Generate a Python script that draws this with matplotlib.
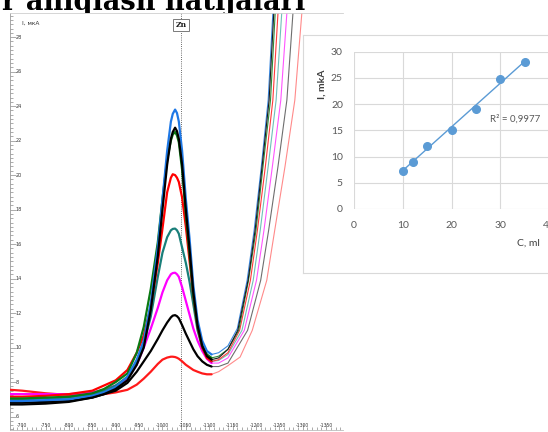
import numpy as np
import matplotlib
matplotlib.use("Agg")
import matplotlib.pyplot as plt
from matplotlib.ticker import MultipleLocator
from matplotlib.transforms import blended_transform_factory

# ---------------------------------------------------------------- data
# Potential grid (mV) for the peak region of every voltammogram
POT = [-675, -700, -750, -800, -850, -875, -900, -925, -945, -960, -975, -990,
       -1000, -1010, -1018, -1022, -1027, -1031, -1035, -1042, -1050, -1058,
       -1066, -1075, -1085, -1095, -1105, -1120, -1140]

# Current (uA) of each scan on the POT grid
cur_blue = [6.9, 6.9, 6.95, 7.0, 7.2, 7.4, 7.7, 8.3, 9.3, 10.4, 12.6, 15.8,
            18.6, 21.4, 23.1, 23.55, 23.8, 23.6, 23.1, 21.4, 18.6, 16.3,
            13.6, 11.6, 10.4, 9.8, 9.6, 9.7, 10.1]
cur_black = [6.7, 6.7, 6.75, 6.85, 7.1, 7.3, 7.6, 8.1, 9.0, 10.0, 12.2, 15.3,
             18.0, 20.6, 22.1, 22.5, 22.75, 22.55, 22.1, 20.6, 18.0, 15.7,
             13.2, 11.3, 10.1, 9.5, 9.3, 9.4, 9.9]
cur_green = [7.05, 7.05, 7.1, 7.15, 7.35, 7.6, 8.0, 8.5, 9.7, 11.2, 13.4, 16.1,
             18.6, 20.9, 22.0, 22.35, 22.5, 22.3, 21.9, 20.3, 17.7, 15.4,
             13.0, 11.2, 10.1, 9.6, 9.4, 9.5, 9.9]
cur_red = [7.15, 7.15, 7.2, 7.3, 7.5, 7.8, 8.1, 8.7, 9.7, 10.7, 12.4, 14.9,
           16.9, 19.0, 19.85, 20.05, 20.0, 19.85, 19.6, 18.7, 17.0, 15.0,
           13.0, 11.2, 10.0, 9.4, 9.2, 9.3, 9.7]
cur_teal = [7.0, 7.0, 7.05, 7.1, 7.3, 7.5, 7.8, 8.3, 9.2, 10.2, 11.8, 14.1,
            15.5, 16.4, 16.8, 16.88, 16.9, 16.8, 16.6, 15.8, 14.9, 13.8,
            12.5, 11.0, 10.0, 9.5, 9.2, 9.25, 9.6]
cur_magenta = [7.3, 7.3, 7.3, 7.3, 7.4, 7.55, 7.8, 8.2, 9.0, 10.0, 11.1, 12.3,
               13.2, 13.9, 14.25, 14.32, 14.34, 14.25, 14.1, 13.5, 12.7, 11.9,
               11.1, 10.4, 9.8, 9.35, 9.1, 9.1, 9.4]
cur_black2 = [6.8, 6.8, 6.85, 6.9, 7.1, 7.3, 7.5, 7.95, 8.6, 9.2, 9.8, 10.5,
              11.0, 11.45, 11.75, 11.85, 11.88, 11.82, 11.7, 11.3, 10.8, 10.35,
              9.9, 9.5, 9.2, 9.0, 8.9, 8.9, 9.1]
cur_red2 = [7.55, 7.5, 7.35, 7.25, 7.25, 7.3, 7.4, 7.55, 7.85, 8.2, 8.6, 9.05,
            9.3, 9.42, 9.47, 9.47, 9.45, 9.41, 9.35, 9.2, 9.0, 8.85,
            8.7, 8.6, 8.5, 8.45, 8.45, 8.6, 8.95]

# Background discharge branch (potential, current) of each scan
rise_pot_blue = [-1160, -1181, -1196, -1211, -1226, -1236, -1246]
rise_cur_blue = [11.1, 13.9, 16.8, 20.4, 24.35, 29.4, 35.0]
rise_pot_black = [-1161, -1183, -1198, -1213, -1228, -1238, -1249]
rise_cur_black = [11.0, 13.9, 16.8, 20.5, 24.35, 29.4, 34.5]
rise_pot_green = [-1163, -1184, -1200, -1215, -1231, -1241, -1251]
rise_cur_green = [11.0, 13.9, 16.8, 20.5, 24.35, 29.4, 34.5]
rise_pot_red = [-1165, -1188, -1203, -1220, -1236, -1247, -1257]
rise_cur_red = [11.0, 13.9, 16.8, 20.5, 24.35, 29.4, 34.5]
rise_pot_teal = [-1170, -1194, -1209, -1226, -1243, -1255, -1266]
rise_cur_teal = [11.0, 13.9, 16.8, 20.5, 24.35, 29.4, 34.5]
rise_pot_magenta = [-1175, -1201, -1217, -1235, -1253, -1266, -1277]
rise_cur_magenta = [11.0, 13.9, 16.8, 20.5, 24.35, 29.4, 34.5]
rise_pot_black2 = [-1182, -1210, -1227, -1247, -1266, -1279, -1292]
rise_cur_black2 = [11.0, 13.9, 16.8, 20.5, 24.35, 29.4, 34.5]
rise_pot_red2 = [-1166, -1192, -1223, -1240, -1262, -1283, -1298, -1311]
rise_cur_red2 = [9.45, 11.0, 13.9, 16.8, 20.5, 24.35, 29.4, 33.0]

X_TICKS = list(range(-700, -1351, -50))
Y_TICKS = list(range(6, 29, 2))
ZN_POT = -1040

# Calibration data
conc = [10, 12, 15, 20, 25, 30, 35]
peak_current = [7.3, 9.0, 12.1, 15.1, 19.1, 24.7, 28.1]
r2_text = "R² = 0,9977"

# ---------------------------------------------------------------- figure
W, H = 548, 432
fig = plt.figure(figsize=(W / 100, H / 100), dpi=100)
fig.patch.set_facecolor("white")


def box(x0, y0, x1, y1):
    """Pixel rectangle (top-left origin) -> figure fraction rect."""
    return [x0 / W, 1 - y1 / H, (x1 - x0) / W, (y1 - y0) / H]


# Heading line (partly hidden behind the voltammogram panel)
probe = fig.text(0, 0, "aniqlash natijalari", fontsize=20,
                 family="DejaVu Serif", weight="bold")
fig.canvas.draw()
fs = 20 * 280 / probe.get_window_extent().width
probe.remove()
fig.text(305 / W, 1 - 9.5 / H, "r aniqlash natijalari", ha="right",
         va="baseline", fontsize=fs, family="DejaVu Serif", weight="bold",
         color="black", zorder=-1)

# ---------------------------------------------------------------- voltammograms
ax = fig.add_axes(box(10, 13, 343, 430))
ax.set_zorder(1)
ax.set_facecolor("white")
ax.set_xlim(-674, -1386)
ax.set_ylim(5.22, 29.4)

scans = [
    (cur_red2, rise_pot_red2, rise_cur_red2, "#ff1a1a", "#ff8a8a"),
    (cur_black2, rise_pot_black2, rise_cur_black2, "#000000", "#6e6e6e"),
    (cur_magenta, rise_pot_magenta, rise_cur_magenta, "#ff00ff", "#ff55ff"),
    (cur_teal, rise_pot_teal, rise_cur_teal, "#1a7f7a", "#6fc0b8"),
    (cur_red, rise_pot_red, rise_cur_red, "#ff0000", "#ff3a3a"),
    (cur_green, rise_pot_green, rise_cur_green, "#0a7a12", "#2e8b3a"),
    (cur_blue, rise_pot_blue, rise_cur_blue, "#1e78e6", "#3a88e0"),
    (cur_black, rise_pot_black, rise_cur_black, "#000000", "#1a1a1a"),
]
split = POT.index(-1105)
for cur, rpot, rcur, c_thick, c_thin in scans:
    ax.plot(POT[:split + 1], cur[:split + 1], color=c_thick, lw=1.6,
            solid_capstyle="round", solid_joinstyle="round", zorder=3)
    ax.plot(POT[split:] + rpot, cur[split:] + rcur, color=c_thin, lw=0.8,
            solid_joinstyle="round", zorder=2)

ax.axvline(ZN_POT, color="#3a3a3a", lw=0.6, ls=(0, (1, 1.6)), zorder=1)

ax.spines["right"].set_visible(False)
ax.spines["top"].set_color("#cfcfcf")
ax.spines["left"].set_color("#9a9a9a")
ax.spines["bottom"].set_color("#bdbdbd")
for s in ax.spines.values():
    s.set_linewidth(0.6)

ax.set_xticks(X_TICKS)
ax.set_yticks(Y_TICKS)
ax.xaxis.set_minor_locator(MultipleLocator(10))
ax.yaxis.set_minor_locator(MultipleLocator(0.25))
ax.tick_params(which="both", direction="in", color="#8a8a8a", width=0.5,
               labelleft=False, labelbottom=False, top=False, right=False)
ax.tick_params(which="major", length=4)
ax.tick_params(which="minor", length=2)

ty = blended_transform_factory(ax.transAxes, ax.transData)
for v in Y_TICKS:
    ax.text(0.016, v, str(v), transform=ty, ha="left", va="center",
            fontsize=3.6, color="#3a3a3a")
tx = blended_transform_factory(ax.transData, ax.transAxes)
for v in X_TICKS:
    ax.text(v, 0.011, str(v), transform=tx, ha="center", va="center",
            fontsize=3.3, color="#3a3a3a")

ax.text(0.036, 0.976, "I, мкА", transform=ax.transAxes, ha="left",
        va="center", fontsize=4.2, color="#303030")
ax.text(ZN_POT, 0.971, "Zn", transform=tx, ha="center", va="center",
        fontsize=5.5, family="DejaVu Serif", weight="bold", color="#202020",
        zorder=4,
        bbox=dict(boxstyle="square,pad=0.3", fc="white", ec="#7a7a7a", lw=0.7))

# ---------------------------------------------------------------- calibration inset
frame = fig.add_axes(box(303, 35, 570, 273))
frame.set_zorder(2)
frame.set_facecolor("white")
frame.set_xticks([])
frame.set_yticks([])
for s in frame.spines.values():
    s.set_color("#d9d9d9")
    s.set_linewidth(0.8)

iax = fig.add_axes(box(354, 51.7, 549, 209))
iax.set_zorder(3)
iax.set_facecolor("none")
iax.set_xlim(0, 40)
iax.set_ylim(0, 30)
iax.set_xticks(range(0, 41, 10))
iax.set_yticks(range(0, 31, 5))
iax.grid(True, color="#d9d9d9", lw=0.8)
iax.set_axisbelow(True)
for s in iax.spines.values():
    s.set_visible(False)
iax.tick_params(length=0, labelsize=7.5, labelcolor="#595959")
iax.tick_params(axis="x", pad=8.5)
iax.tick_params(axis="y", pad=8)
for lab in iax.get_xticklabels() + iax.get_yticklabels():
    lab.set_family("Lato")

slope, icpt = np.polyfit(conc, peak_current, 1)
fit_x = np.array([conc[0], conc[-1]])
iax.plot(fit_x, slope * fit_x + icpt, color="#5b9bd5", lw=1.0, zorder=2)
iax.plot(conc, peak_current, "o", color="#5b9bd5", ms=5.5, mec="#5b9bd5",
         zorder=3)
iax.text(27.9, 17.2, r2_text, ha="left", va="center", fontsize=7,
         color="#595959", family="Lato")

fig.text(322 / W, 1 - 84 / H, "I, mkA", rotation=90, ha="center",
         va="center", fontsize=7.5, weight="bold", color="#404040",
         family="Lato", zorder=5)
fig.text(517 / W, 1 - 243 / H, "C, ml", ha="left", va="center",
         fontsize=7.5, color="#404040", family="Lato", zorder=5)

fig.savefig("out.png", dpi=100, facecolor="white")
